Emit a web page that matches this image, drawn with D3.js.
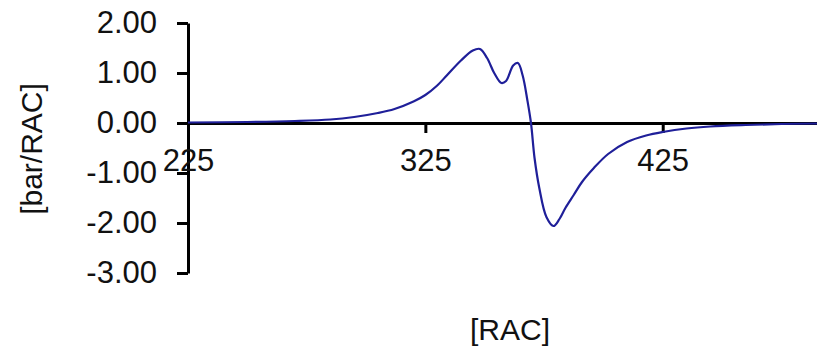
<!DOCTYPE html>
<html>
<head>
<meta charset="utf-8">
<script src="https://cdn.jsdelivr.net/npm/d3@7"></script>
<style>
  body { margin: 0; background: #fff; }
  svg { display: block; font-family: "Liberation Sans", Arial, sans-serif; }
</style>
</head>
<body>
<div id="wrapper"></div>
<script>
// data
const racValues = [225, 250, 270, 285, 295, 305, 312, 320, 325, 330, 334, 340, 345, 348, 351, 354, 357, 359, 362, 364, 366, 368, 369.5, 371, 373, 376, 379, 381.5, 384, 387.5, 391, 396, 402, 410, 418, 425, 435, 445, 460, 475, 490];
const signalValues = [0.01, 0.02, 0.04, 0.07, 0.12, 0.2, 0.28, 0.43, 0.56, 0.75, 0.95, 1.25, 1.45, 1.48, 1.3, 1.0, 0.8, 0.84, 1.15, 1.2, 0.95, 0.45, 0.0, -0.7, -1.3, -1.88, -2.06, -1.92, -1.7, -1.44, -1.18, -0.9, -0.62, -0.38, -0.25, -0.18, -0.11, -0.07, -0.04, -0.02, -0.01];
const xTicks = [225, 325, 425];
const yTicks = [2, 1, 0, -1, -2, -3];

const dataset = racValues.map((x, i) => ({ x, y: signalValues[i] }));
const xAccessor = (d) => d.x;
const yAccessor = (d) => d.y;

const width = 817;
const height = 349;

const wrapper = d3
  .select("#wrapper")
  .append("svg")
  .attr("width", width)
  .attr("height", height);

const xScale = d3.scaleLinear().domain([225, 490]).range([188, 817]);
const yScale = d3.scaleLinear().domain([-3, 2]).range([273, 23]);

// plain hyphen for negatives, like the original
const yFormat = (d) => d3.format(".2f")(d).replace("\u2212", "-");

// y axis
const yAxis = wrapper
  .append("g")
  .attr("transform", `translate(${xScale(225)},0)`)
  .call(
    d3.axisLeft(yScale)
      .tickValues(yTicks)
      .tickFormat(yFormat)
      .tickSize(11)
      .tickSizeOuter(0)
      .tickPadding(20)
  );

// x axis sits on zero
const xAxis = wrapper
  .append("g")
  .attr("transform", `translate(0,${yScale(0)})`)
  .call(
    d3.axisBottom(xScale)
      .tickValues(xTicks)
      .tickSize(10)
      .tickSizeOuter(0)
      .tickPadding(16)
  );

[yAxis, xAxis].forEach((ax) => {
  ax.select(".domain").attr("stroke", "#000").attr("stroke-width", 3);
  ax.selectAll(".tick line").attr("stroke", "#000").attr("stroke-width", 3);
  ax.selectAll(".tick text")
    .attr("fill", "#111")
    .style("font-size", "31px")
    .style("font-family", "Liberation Sans, Arial, sans-serif");
});

// curve
const lineGenerator = d3
  .line()
  .x((d) => xScale(xAccessor(d)))
  .y((d) => yScale(yAccessor(d)))
  .curve(d3.curveCatmullRom);

wrapper
  .append("path")
  .datum(dataset)
  .attr("d", lineGenerator)
  .attr("fill", "none")
  .attr("stroke", "#1f1f99")
  .attr("stroke-width", 2.2);

// axis labels
wrapper
  .append("text")
  .attr("x", 510)
  .attr("y", 340)
  .attr("text-anchor", "middle")
  .style("font-size", "30px")
  .attr("fill", "#111")
  .text("[RAC]");

wrapper
  .append("text")
  .attr("transform", "translate(42,149) rotate(-90)")
  .attr("text-anchor", "middle")
  .style("font-size", "30px")
  .attr("fill", "#111")
  .text("[bar/RAC]");
</script>
</body>
</html>
